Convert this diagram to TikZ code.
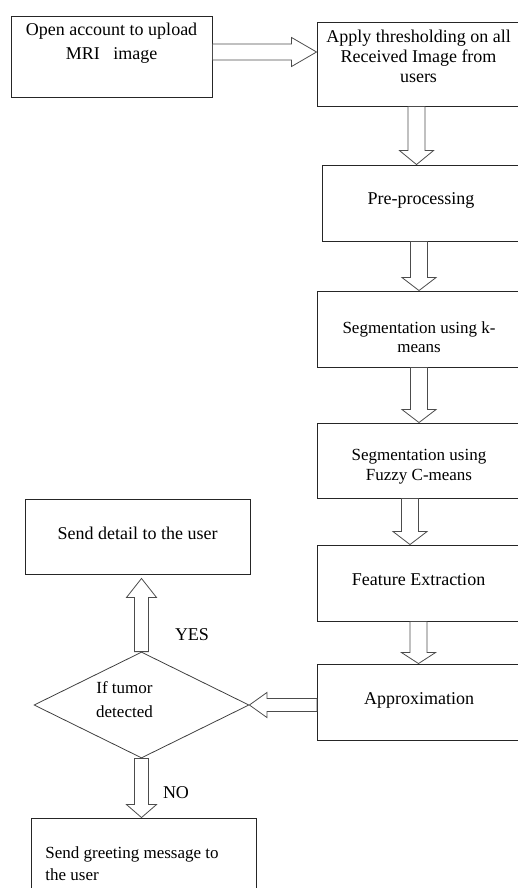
\documentclass[tikz,border=0pt]{standalone}
\usepackage{fontspec}
\setmainfont{Liberation Serif}
\usetikzlibrary{shapes.geometric,calc}

\tikzset{
  box/.style={draw=black!85, line width=0.9pt, minimum width=203pt, minimum height=76pt, inner sep=0pt},
  txt/.style={font=\fontsize{18}{21}\selectfont, align=center, inner sep=0pt},
  decision/.style={diamond, draw=black!75, line width=0.8pt, minimum width=215pt, minimum height=106pt, inner sep=0pt},
  fat/.style={draw=black!70, line width=0.8pt}
}

\newcommand{\fatarrow}[5]{%
  \draw[fat] let \p1=(#1), \p2=(#2),
    \n1={atan2(\y2-\y1,\x2-\x1)}, \n2={veclen(\x2-\x1,\y2-\y1)} in
    [shift={(\p1)}, rotate=\n1]
    (0pt,-#3pt) -- (\n2-#5pt,-#3pt) -- (\n2-#5pt,-#4pt) -- (\n2,0pt)
    -- (\n2-#5pt,#4pt) -- (\n2-#5pt,#3pt) -- (0pt,#3pt) -- cycle;}

\begin{document}
\begin{tikzpicture}[x=1pt, y=-1pt]
\useasboundingbox (0,0) rectangle (518,888);
\clip (0,0) rectangle (518,888);

\node[box, minimum width=201pt, minimum height=81pt,
  label={[txt, font=\fontsize{18}{24}\selectfont, yshift=13.5pt]center:Open account to upload\\MRI\ \ \ image}] (open) at (111.5,56.5) {};
\node[box, minimum height=84pt,
  label={[txt, font=\fontsize{18}{20}\selectfont, yshift=7.5pt]center:Apply thresholding on all\\Received Image from\\users}] (thresh) at (418.5,64) {};
\node[box, minimum width=198pt, label={[txt, yshift=3pt]center:Pre-processing}] (pre) at (421,203) {};
\node[box, label={[txt, font=\fontsize{17}{19}\selectfont, yshift=-8pt]center:Segmentation using k-\\means}] (kmeans) at (419,329) {};
\node[box, minimum height=75pt,
  label={[txt, font=\fontsize{17}{20}\selectfont, yshift=-6.5pt]center:Segmentation using\\Fuzzy C-means}] (fuzzy) at (419,460.5) {};
\node[box, label={[txt, yshift=3pt]center:Feature Extraction}] (feature) at (418.5,583) {};
\node[box, label={[txt, yshift=2pt]center:Approximation}] (approx) at (419,702) {};

\node[decision, label={[txt, font=\fontsize{17}{24}\selectfont, xshift=-17pt, yshift=5pt]center:If tumor\\detected}] (tumor) at (141.5,705) {};
\node[box, minimum width=225pt, minimum height=75pt,
  label={[txt, yshift=3.5pt]center:Send detail to the user}] (detail) at (137.5,536.5) {};
\node[box, minimum width=225pt, minimum height=77pt,
  label={[txt, align=left, font=\fontsize{17}{22}\selectfont, xshift=-11.5pt, yshift=-7.5pt]center:Send greeting message to\\the user}] (greet) at (143.5,856.5) {};

\node[txt] (yes) at (192,635) {YES};
\node[txt] (no) at (176,793) {NO};

\fatarrow{[yshift=4.5pt]open.east}{[yshift=12pt]thresh.west}{8}{14.5}{25}
\fatarrow{[xshift=-2pt]thresh.south}{$(thresh.south |- pre.north)+(-2,0)$}{8.5}{17}{14}
\fatarrow{kmeans.north |- pre.south}{kmeans.north}{8.5}{17}{13}
\fatarrow{kmeans.south}{fuzzy.north}{8.5}{17}{13}
\fatarrow{[xshift=-9pt]fuzzy.south}{$(fuzzy.south |- feature.north)+(-9,0)$}{8.5}{17}{13}
\fatarrow{feature.south}{feature.south |- approx.north}{8.5}{17}{11}
\fatarrow{[yshift=-3pt]approx.west}{tumor.east}{6.5}{12.5}{17.5}
\fatarrow{tumor.north}{$(tumor.north |- detail.south)+(0,4)$}{7}{15}{19}
\fatarrow{tumor.south}{tumor.south |- greet.north}{7}{15}{13}
\end{tikzpicture}
\end{document}
